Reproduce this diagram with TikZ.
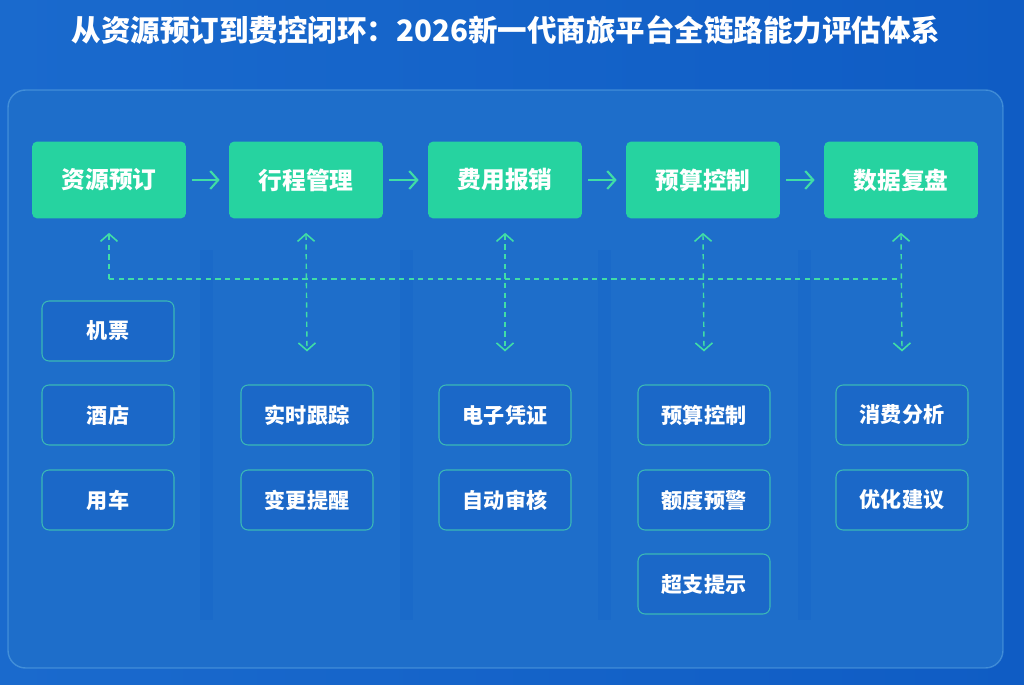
\documentclass[tikz,border=0pt]{standalone}
\usepackage{fontspec}
\setmainfont{Noto Sans CJK SC}
\usetikzlibrary{arrows.meta}
\definecolor{bgblue}{HTML}{0F5CC4}
\definecolor{bglight}{HTML}{1A6ACD}
\definecolor{panelblue}{HTML}{1E6ECA}
\definecolor{gapblue}{HTML}{0E5EC6}
\definecolor{boxgreen}{HTML}{26D3A0}
\definecolor{linkgreen}{HTML}{40DDA6}
\definecolor{subedge}{HTML}{3BB8B6}
\definecolor{subfill}{HTML}{1B68C8}
\tikzset{barb/.tip={Straight Barb[length=1.5mm, width=3.4mm, line width=0.9pt]}}

\begin{document}
\begin{tikzpicture}[x=0.02cm, y=-0.02cm,
    stage/.style={rectangle, rounded corners=3pt, fill=boxgreen, text=white,
      font=\fontsize{13.5}{16}\selectfont\bfseries,
      minimum width=3.08cm, minimum height=1.54cm},
    item/.style={rectangle, rounded corners=4pt, draw=subedge, line width=0.6pt,
      fill=subfill, text=white, font=\fontsize{12}{14}\selectfont\bfseries,
      minimum width=2.64cm, minimum height=1.2cm},
    flow/.style={draw=linkgreen, line width=1.2pt, shorten <=0.12cm, shorten >=0.18cm,
      -{Straight Barb[length=1.6mm, width=3.6mm, line width=1.2pt]}},
    link/.style={draw=linkgreen, line width=0.8pt, dash pattern=on 3pt off 2.5pt}]
    \useasboundingbox (0,0) rectangle (1024,685);
    \shade[left color=bglight, right color=bgblue] (0,0) rectangle (1024,685);
    \node[font=\fontsize{16.8}{20}\selectfont\bfseries, text=white] (title) at (506,30)
      {从资源预订到费控闭环：2026新一代商旅平台全链路能力评估体系};
    \draw[rounded corners=10pt, fill=panelblue, draw=cyan!40!white, draw opacity=0.3, line width=0.8pt]
      (8,90) rectangle (1003,668);
    \foreach \gx in {200,400,598,798}
      \fill[gapblue, opacity=0.22] (\gx,250) rectangle (\gx+13,620);

    \node[stage] (book) at (109,180) {资源预订};
    \node[stage] (trip) at (306,180) {行程管理};
    \node[stage] (expense) at (505,180) {费用报销};
    \node[stage] (budget) at (703,180) {预算控制};
    \node[stage] (review) at (901,180) {数据复盘};

    \draw[flow] (book) -- (trip);
    \draw[flow] (trip) -- (expense);
    \draw[flow] (expense) -- (budget);
    \draw[flow] (budget) -- (review);

    \node[item] (ticket) at (108,331) {机票};
    \node[item] (hotel) at (108,415) {酒店};
    \node[item] (car) at (108,500) {用车};
    \node[item] (track) at (307,415) {实时跟踪};
    \node[item] (alert) at (307,500) {变更提醒};
    \node[item] (voucher) at (505,415) {电子凭证};
    \node[item] (audit) at (505,500) {自动审核};
    \node[item] (limit) at (704,415) {预算控制};
    \node[item] (warn) at (704,500) {额度预警};
    \node[item] (over) at (704,584) {超支提示};
    \node[item] (spend) at (902,415) {消费分析};
    \node[item] (advice) at (902,500) {优化建议};

    \coordinate (busleft) at (109,279);
    \coordinate (busright) at (901,279);
    \draw[link] (busleft) -- (busright);
    \draw[link, -barb] (busleft) -- ([yshift=-0.28cm]book.south);
    \draw[link, barb-barb] ([yshift=-0.28cm]trip.south) -- ([yshift=0.66cm]track.north);
    \draw[link, barb-barb] ([yshift=-0.28cm]expense.south) -- ([yshift=0.66cm]voucher.north);
    \draw[link, barb-barb] ([yshift=-0.28cm]budget.south) -- ([yshift=0.66cm]limit.north);
    \draw[link, barb-barb] ([yshift=-0.28cm]review.south) -- ([yshift=0.66cm]spend.north);
  \end{tikzpicture}
\end{document}
